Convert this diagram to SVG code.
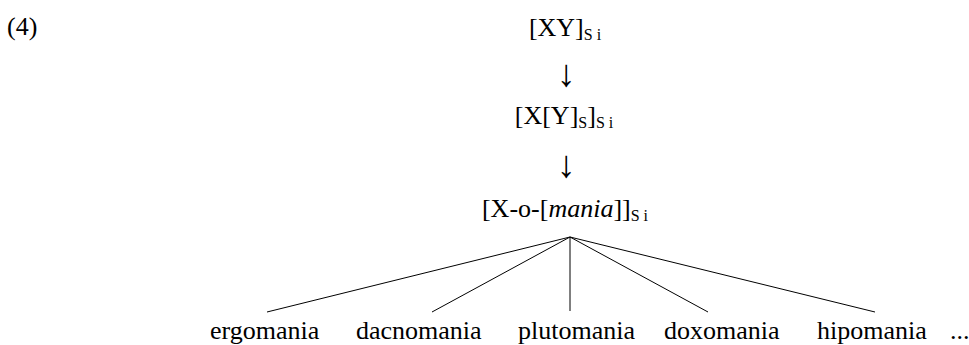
<svg xmlns="http://www.w3.org/2000/svg" width="969" height="345" viewBox="0 0 969 345" font-family="'Liberation Serif', 'Times New Roman', serif">
<style>
text { font-family: "Liberation Serif", "Times New Roman", serif; font-size: 26px; fill: #000; }
.sub { font-size: 16px; }
.c { text-anchor: middle; }
.arr { font-size: 38px; }
.edge { stroke: #000; stroke-width: 1; fill: none; }
</style>
<rect width="969" height="345" fill="#fff"/>
<g id="label4"><text x="7" y="35">(4)</text></g>
<g id="n1"><text class="c" x="565" y="36">[XY]<tspan class="sub" dy="4">S i</tspan></text></g>
<g id="arrow1"><text class="c arr" x="566" y="86">↓</text></g>
<g id="n2"><text class="c" x="564" y="124">[X[Y]<tspan class="sub" dy="4">S</tspan><tspan dy="-4">]</tspan><tspan class="sub" dy="4">S i</tspan></text></g>
<g id="arrow2"><text class="c arr" x="566" y="177">↓</text></g>
<g id="n3"><text class="c" x="565" y="217">[X-o-[<tspan font-style="italic">mania</tspan>]]<tspan class="sub" dy="4">S i</tspan></text></g>
<g id="connectors">
<line class="edge" x1="570" y1="237" x2="267" y2="312"/>
<line class="edge" x1="570" y1="237" x2="432" y2="312"/>
<line class="edge" x1="570" y1="237" x2="570" y2="311"/>
<line class="edge" x1="570" y1="237" x2="708" y2="312"/>
<line class="edge" x1="570" y1="237" x2="875" y2="312"/>
</g>
<g id="w1"><text x="210" y="339">ergomania</text></g>
<g id="w2"><text x="356" y="339">dacnomania</text></g>
<g id="w3"><text x="518" y="339">plutomania</text></g>
<g id="w4"><text x="664" y="339">doxomania</text></g>
<g id="w5"><text x="817" y="339">hipomania</text></g>
<g id="w6"><text x="950" y="339">...</text></g>
</svg>
